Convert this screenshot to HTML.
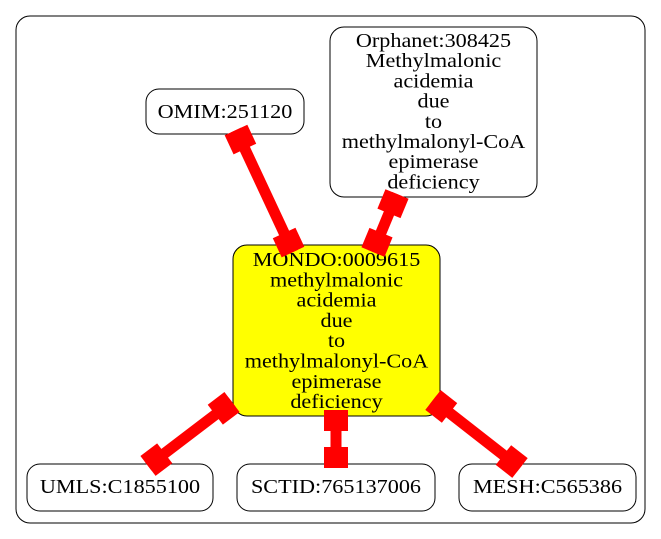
<!DOCTYPE html>
<html><head><meta charset="utf-8"><style>
html,body{margin:0;padding:0;background:#fff;}
svg{display:block;}
text{font-family:"Liberation Serif",serif;font-size:20px;fill:#000;}
</style></head><body>
<svg width="661" height="539" viewBox="0 0 661 539" xmlns="http://www.w3.org/2000/svg">
<rect x="16" y="16" width="629" height="507" rx="14" fill="#fff" stroke="#000" stroke-width="1"/>
<rect x="146" y="89" width="158" height="45" rx="13" fill="#fff" stroke="#000"/>
<rect x="330" y="27" width="207" height="170" rx="14" fill="#fff" stroke="#000"/>
<rect x="233" y="245" width="207" height="171" rx="14" fill="#ffff00" stroke="#000"/>
<rect x="27" y="464" width="186" height="47" rx="13" fill="#fff" stroke="#000"/>
<rect x="237" y="464" width="198" height="47" rx="13" fill="#fff" stroke="#000"/>
<rect x="459" y="464" width="177" height="47" rx="13" fill="#fff" stroke="#000"/>

<g text-anchor="middle">
<g transform="translate(225,0) scale(1.11,1)"><text x="0" y="118">OMIM:251120</text></g>
<g transform="translate(433.5,0) scale(1.11,1)">
<text x="0" y="47">Orphanet:308425</text>
<text x="0" y="67.2">Methylmalonic</text>
<text x="0" y="87.4">acidemia</text>
<text x="0" y="107.6">due</text>
<text x="0" y="127.8">to</text>
<text x="0" y="148">methylmalonyl-CoA</text>
<text x="0" y="168.2">epimerase</text>
<text x="0" y="188.4">deficiency</text>
</g>
<g transform="translate(336.5,0) scale(1.11,1)">
<text x="0" y="266">MONDO:0009615</text>
<text x="0" y="286.3">methylmalonic</text>
<text x="0" y="306.6">acidemia</text>
<text x="0" y="326.9">due</text>
<text x="0" y="347.2">to</text>
<text x="0" y="367.5">methylmalonyl-CoA</text>
<text x="0" y="387.8">epimerase</text>
<text x="0" y="408.1">deficiency</text>
</g>
<g transform="translate(120,0) scale(1.11,1)"><text x="0" y="493">UMLS:C1855100</text></g>
<g transform="translate(336,0) scale(1.11,1)"><text x="0" y="493">SCTID:765137006</text></g>
<g transform="translate(547.5,0) scale(1.11,1)"><text x="0" y="493">MESH:C565386</text></g>
</g>

<g fill="#ff0000" stroke="none">
<g transform="translate(236,130) rotate(64.96)">
<rect x="0" y="-5.5" width="134.7" height="11"/>
<rect x="0" y="-12.5" width="21" height="25"/>
<rect x="113.7" y="-12.5" width="21" height="25"/>
</g>
<g transform="translate(397,194) rotate(112.5)">
<rect x="0" y="-5.5" width="62.8" height="11"/>
<rect x="0" y="-12.5" width="21" height="25"/>
<rect x="41.8" y="-12.5" width="21" height="25"/>
</g>
<g transform="translate(232,402) rotate(142.7)">
<rect x="0" y="-5.5" width="105.6" height="11"/>
<rect x="0" y="-12.5" width="21" height="25"/>
<rect x="84.6" y="-12.5" width="21" height="25"/>
</g>
<g transform="translate(336,410) rotate(90)">
<rect x="0" y="-5.5" width="58" height="11"/>
<rect x="0" y="-12" width="21" height="24"/>
<rect x="37" y="-12" width="21" height="24"/>
</g>
<g transform="translate(433,400) rotate(38)">
<rect x="0" y="-5.5" width="110.4" height="11"/>
<rect x="0" y="-12.5" width="21" height="25"/>
<rect x="89.4" y="-12.5" width="21" height="25"/>
</g>
</g>
</svg>
</body></html>
